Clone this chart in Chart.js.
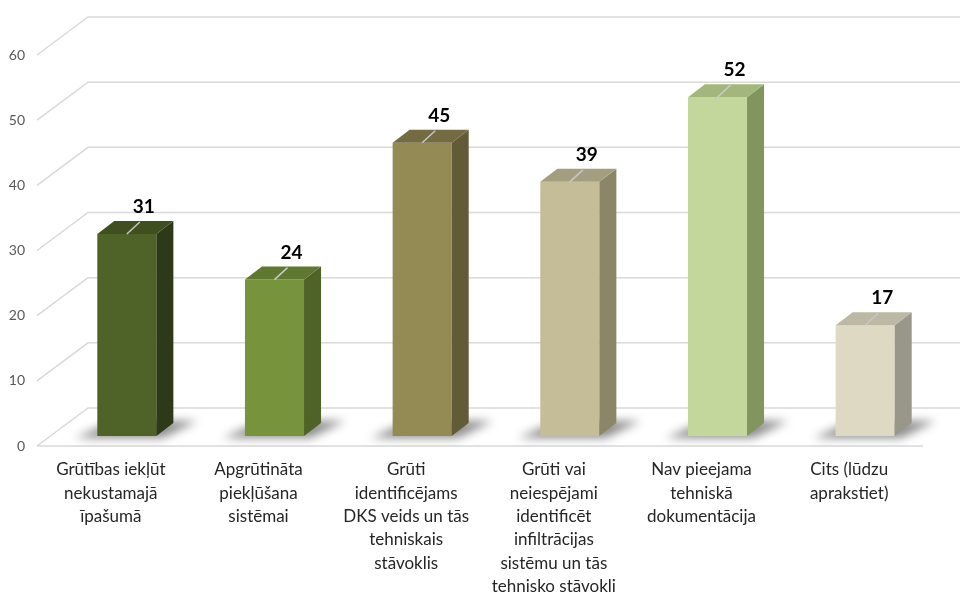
<!DOCTYPE html>
<html lang="lv">
<head>
<meta charset="utf-8">
<title>Grūtības</title>
<script src="https://cdn.jsdelivr.net/npm/chart.js@4"></script>
<style>
  html, body { margin: 0; padding: 0; background: #fff; }
  #wrap { width: 960px; height: 594px; }
</style>
</head>
<body>
<div id="wrap"><canvas id="chart" width="960" height="594"></canvas></div>
<script>
// --- data ---
const categories = [
  ['Grūtības iekļūt', 'nekustamajā', 'īpašumā'],
  ['Apgrūtināta', 'piekļūšana', 'sistēmai'],
  ['Grūti', 'identificējams', 'DKS veids un tās', 'tehniskais', 'stāvoklis'],
  ['Grūti vai', 'neiespējami', 'identificēt', 'infiltrācijas', 'sistēmu un tās', 'tehnisko stāvokli'],
  ['Nav pieejama', 'tehniskā', 'dokumentācija'],
  ['Cits (lūdzu', 'aprakstiet)']
];
const values = [31, 24, 45, 39, 52, 17];
const yTicks = [0, 10, 20, 30, 40, 50, 60];

// face colours per bar: front / side / top
const frontColors = ['#4F6228', '#77933C', '#948A54', '#C4BD97', '#C3D69B', '#DDD9C3'];
const sideColors  = ['#2E3A17', '#4F6228', '#625B37', '#8C8668', '#82955F', '#99978A'];
const topColors   = ['#3F4F20', '#5F7830', '#746B42', '#A49E80', '#A3B77D', '#BBB8A4'];

// fake 3D depth of the bars and of the back wall
const DX = 17, DY = -13;
const FRONT = { dx: -16, dy: 10 }, BACK = { dx: 35, dy: -28 };

const FONT = 'Lato, "Open Sans", sans-serif';

const wallPlugin = {
  id: 'wall',
  beforeDatasetsDraw(chart) {
    const { ctx, chartArea, scales: { y } } = chart;
    ctx.save();
    ctx.strokeStyle = '#d9d9d9';
    ctx.lineWidth = 1.5;
    yTicks.forEach(v => {
      const py = y.getPixelForValue(v);
      const fx = chartArea.left + FRONT.dx, fy = py + FRONT.dy;
      const bx = chartArea.left + BACK.dx, by = py + BACK.dy;
      ctx.beginPath();
      ctx.moveTo(fx, fy); ctx.lineTo(bx, by); ctx.lineTo(chart.width, by);
      if (v === 0) { ctx.moveTo(fx, fy); ctx.lineTo(chartArea.right + FRONT.dx, fy); }
      ctx.stroke();
    });
    // soft floor shadows
    const meta = chart.getDatasetMeta(0);
    meta.data.forEach(bar => {
      const l = bar.x - bar.width / 2, r = bar.x + bar.width / 2, b = bar.base;
      ctx.save();
      ctx.filter = 'blur(5px)';
      ctx.fillStyle = 'rgba(0,0,0,0.45)';
      ctx.beginPath();
      ctx.moveTo(l - 22, b + 2);
      ctx.lineTo(r + 6, b + 2);
      ctx.lineTo(r + DX + 24, b + DY - 2);
      ctx.lineTo(l + DX, b + DY - 2);
      ctx.closePath();
      ctx.fill();
      ctx.restore();
    });
    ctx.restore();
  },
  afterDatasetsDraw(chart) {
    const { ctx } = chart;
    const meta = chart.getDatasetMeta(0);
    ctx.save();
    meta.data.forEach((bar, i) => {
      const l = bar.x - bar.width / 2, r = bar.x + bar.width / 2;
      const t = bar.y, b = bar.base;
      // side face
      ctx.fillStyle = sideColors[i];
      ctx.beginPath();
      ctx.moveTo(r, t); ctx.lineTo(r + DX, t + DY); ctx.lineTo(r + DX, b + DY); ctx.lineTo(r, b);
      ctx.closePath(); ctx.fill();
      // top face
      ctx.fillStyle = topColors[i];
      ctx.beginPath();
      ctx.moveTo(l, t); ctx.lineTo(l + DX, t + DY); ctx.lineTo(r + DX, t + DY); ctx.lineTo(r, t);
      ctx.closePath(); ctx.fill();
      // leader line
      ctx.strokeStyle = '#c8c8c8';
      ctx.lineWidth = 1.5;
      ctx.beginPath();
      ctx.moveTo(bar.x, t); ctx.lineTo(bar.x + 13, t - 12);
      ctx.stroke();
      // value label
      ctx.fillStyle = '#000';
      ctx.font = 'bold 19px ' + FONT;
      ctx.textAlign = 'center';
      ctx.textBaseline = 'middle';
      ctx.fillText(String(values[i]), bar.x + 17, t - 27);
    });
    ctx.restore();
  }
};

new Chart(document.getElementById('chart'), {
  type: 'bar',
  data: {
    labels: categories,
    datasets: [{
      data: values,
      backgroundColor: frontColors,
      borderWidth: 0,
      categoryPercentage: 1,
      barPercentage: 0.4
    }]
  },
  options: {
    responsive: false,
    animation: false,
    events: [],
    layout: { padding: { top: 45, right: 21, left: 0, bottom: 0 } },
    plugins: { legend: { display: false }, tooltip: { enabled: false } },
    scales: {
      x: {
        grid: { display: false, drawTicks: false },
        border: { display: false },
        afterFit: s => { s.height = 158; },
        ticks: {
          color: '#262626',
          font: { family: FONT, size: 17, lineHeight: 1.375 },
          padding: 22,
          labelOffset: -16,
          maxRotation: 0,
          autoSkip: false
        }
      },
      y: {
        min: 0, max: 60,
        grid: { display: false, drawTicks: false },
        border: { display: false },
        afterFit: s => { s.width = 53; },
        ticks: {
          stepSize: 10,
          color: '#595959',
          font: { family: FONT, size: 14 },
          padding: 28,
          labelOffset: 10
        }
      }
    }
  },
  plugins: [wallPlugin]
});
</script>
</body>
</html>
